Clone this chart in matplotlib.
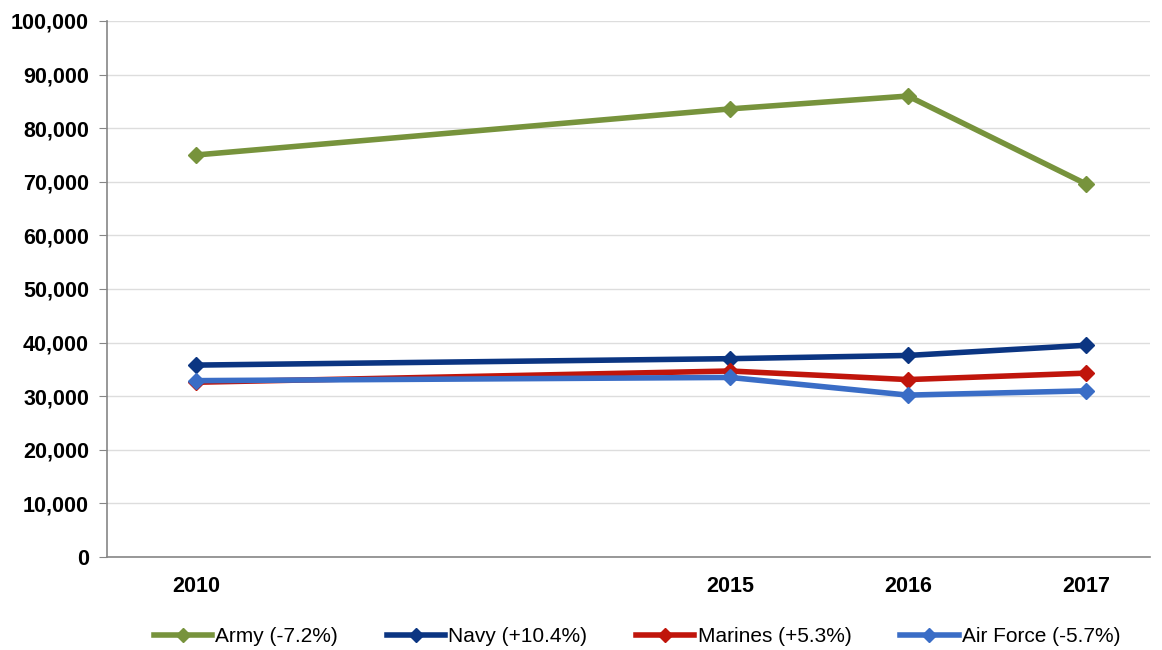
import matplotlib
matplotlib.use('Agg')
from matplotlib import pyplot as plt
import matplotlib.ticker

plt.rcParams['font.family'] = ['Liberation Sans', 'DejaVu Sans']

# data
years = ['2010', '2015', '2016', '2017']
slots = [0, 3, 4, 5]  # category slots, 2011-2014 left empty on the axis
army = [75000, 83600, 86000, 69600]
navy = [35800, 37000, 37600, 39500]
marines = [32600, 34700, 33100, 34300]
air_force = [32900, 33500, 30200, 31000]

series = [
    ('Army (-7.2%)', army, '#77933C'),
    ('Navy (+10.4%)', navy, '#0B3582'),
    ('Marines (+5.3%)', marines, '#C0150B'),
    ('Air Force (-5.7%)', air_force, '#3A6DC6'),
]

fig = plt.figure(figsize=(11.62, 6.5), dpi=100)
ax = fig.add_axes([0.0921, 0.1431, 0.8976, 0.8246])

for name, vals, col in series:
    ax.plot(slots, vals, color=col, linewidth=4, marker='D', markersize=8.5,
            label=name, solid_joinstyle='round')

ax.set_ylim(0, 100000)
ax.set_xlim(-0.5, 5.36)
ax.yaxis.set_major_locator(matplotlib.ticker.MultipleLocator(10000))
ax.yaxis.set_major_formatter(matplotlib.ticker.FuncFormatter(lambda v, p: '{:,.0f}'.format(v)))
ax.set_xticks(slots)
ax.set_xticklabels(years)

ax.grid(axis='y', color='#DDDDDD', linewidth=1)
ax.set_axisbelow(True)
for s in ['top', 'right']:
    ax.spines[s].set_visible(False)
for s in ['left', 'bottom']:
    ax.spines[s].set_color('#868686')
    ax.spines[s].set_linewidth(1.2)

ax.tick_params(axis='y', length=6, color='#868686', labelsize=15.5, pad=7)
ax.tick_params(axis='x', length=0, labelsize=15.5, pad=14)
for lbl in ax.get_xticklabels() + ax.get_yticklabels():
    lbl.set_fontweight('bold')

ax.legend(loc='center', bbox_to_anchor=(0.508, -0.149), ncol=4, frameon=False,
          fontsize=15, handlelength=2.8, handletextpad=0.15, columnspacing=2.35,
          markerscale=0.8)

plt.savefig('out.png', dpi=100)
